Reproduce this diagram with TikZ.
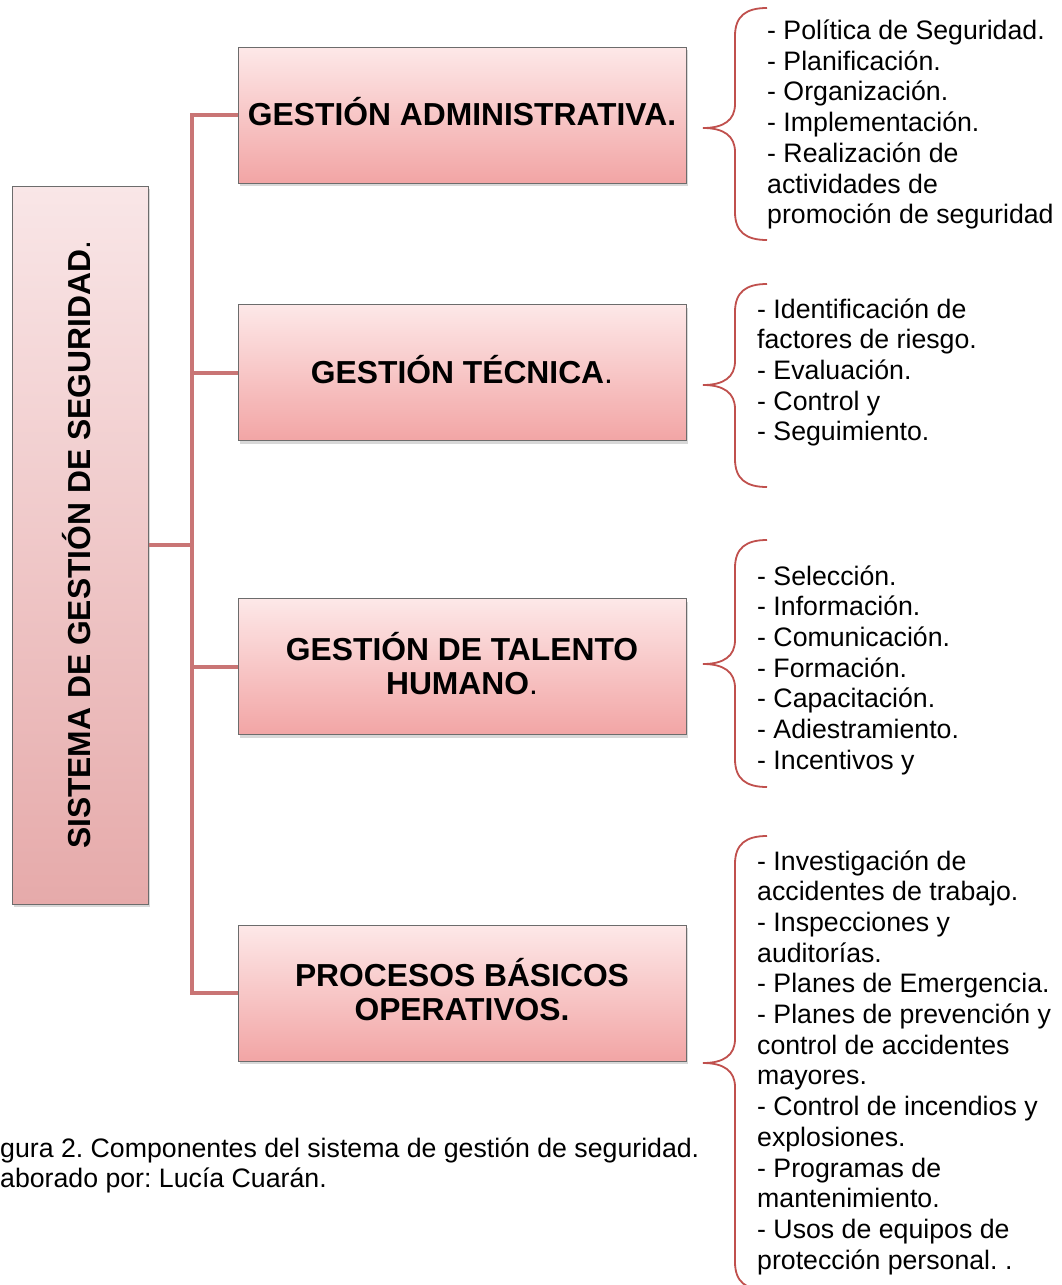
\documentclass[tikz,border=0pt]{standalone}
\usepackage{fontspec}
\setmainfont{Liberation Sans}
\usepackage{graphicx}
\usepackage{tikz}
\usetikzlibrary{shadows}

\definecolor{rama}{RGB}{201,117,117}
\definecolor{llave}{RGB}{192,80,77}
\definecolor{rosaA}{RGB}{253,232,232}
\definecolor{rosaB}{RGB}{242,165,165}
\definecolor{rosaC}{RGB}{249,230,231}
\definecolor{rosaD}{RGB}{230,170,170}

\newcommand{\titulo}{\fontsize{31.8}{34}\selectfont\bfseries}
\newcommand{\lista}{\fontsize{26.7}{30.7}\selectfont\frenchspacing}

\begin{document}
\begin{tikzpicture}[x=1pt,y=-1pt,
  caja/.style={draw=gray!85!black, line width=1pt, top color=rosaA, bottom color=rosaB,
    minimum width=448pt, minimum height=136pt, align=center, font=\titulo,
    drop shadow={shadow xshift=1.5pt, shadow yshift=-3pt, opacity=0.3}},
  rama/.style={draw=rama, line width=4pt},
  llave/.style={draw=llave, line width=1.8pt},
  texto/.style={anchor=base west, inner sep=0pt, font=\lista}]

\fill[white] (0,0) rectangle (1062,1285);
\useasboundingbox (0,0) rectangle (1062,1285);

\node [caja, top color=rosaC, bottom color=rosaD, minimum width=136pt, minimum height=718pt] (sis) at (80,545)
  {\rotatebox{90}{SISTEMA DE GESTI\smash{Ó}N DE SEGURIDAD\textmd{.}}};

\node [caja] (adm) at (462,115) {GESTI\smash{Ó}N ADMINISTRATIVA.};
\node [caja] (tec) at (462,372.5) {GESTI\smash{Ó}N T\smash{É}CNICA\textmd{.}};
\node [caja] (tal) at (462,666.5) {GESTI\smash{Ó}N DE TALENTO\\HUMANO\textmd{.}};
\node [caja] (pro) at (462,993) {PROCESOS B\smash{Á}SICOS\\OPERATIVOS.};

% tronco
\coordinate (tronco) at (192,0);
\draw [rama] (sis.east) -- (sis.east -| tronco);
\draw [rama] (adm.west) -| (tronco |- pro.west) -- (pro.west);
\draw [rama] (tec.west) -- (tec.west -| tronco);
\draw [rama] (tal.west) -- (tal.west -| tronco);

% llaves
\foreach \ya/\yb/\yc in {8/128/240, 284/385/487, 540/664/787, 836/1063/1290}
  \draw [llave] (767,\ya) .. controls (746,\ya) and (735,\ya+8) .. (735,\ya+28)
    -- (735,\yb-24) .. controls (735,\yb-8) and (724,\yb) .. (703,\yb)
    .. controls (724,\yb) and (735,\yb+8) .. (735,\yb+24)
    -- (735,\yc-28) .. controls (735,\yc-8) and (746,\yc) .. (767,\yc);

\node [texto] (l1) at (767,39.5) {\parbox[t]{400pt}{\raggedright
  - Política de Seguridad.\\ - Planificación.\\ - Organización.\\ - Implementación.\\
  - Realización de\\ actividades de\\ promoción de seguridad}};
\node [texto] (l2) at (757,318) {\parbox[t]{400pt}{\raggedright
  - Identificación de\\ factores de riesgo.\\ - Evaluación.\\ - Control y\\ - Seguimiento.}};
\node [texto] (l3) at (757,585) {\parbox[t]{400pt}{\raggedright
  - Selección.\\ - Información.\\ - Comunicación.\\ - Formación.\\ - Capacitación.\\
  - Adiestramiento.\\ - Incentivos y}};
\node [texto] (l4) at (757,870) {\parbox[t]{400pt}{\raggedright
  - Investigación de\\ accidentes de trabajo.\\ - Inspecciones y\\ auditorías.\\
  - Planes de Emergencia.\\ - Planes de prevención y\\ control de accidentes\\ mayores.\\
  - Control de incendios y\\ explosiones.\\ - Programas de\\ mantenimiento.\\
  - Usos de equipos de\\ protección personal. .}};

\node [texto] (pie) at (0,1157) {\parbox[t]{800pt}{\raggedright\baselineskip=30pt
  gura 2. Componentes del sistema de gestión de seguridad.\\ aborado por: Lucía Cuarán.}};

\end{tikzpicture}
\end{document}
